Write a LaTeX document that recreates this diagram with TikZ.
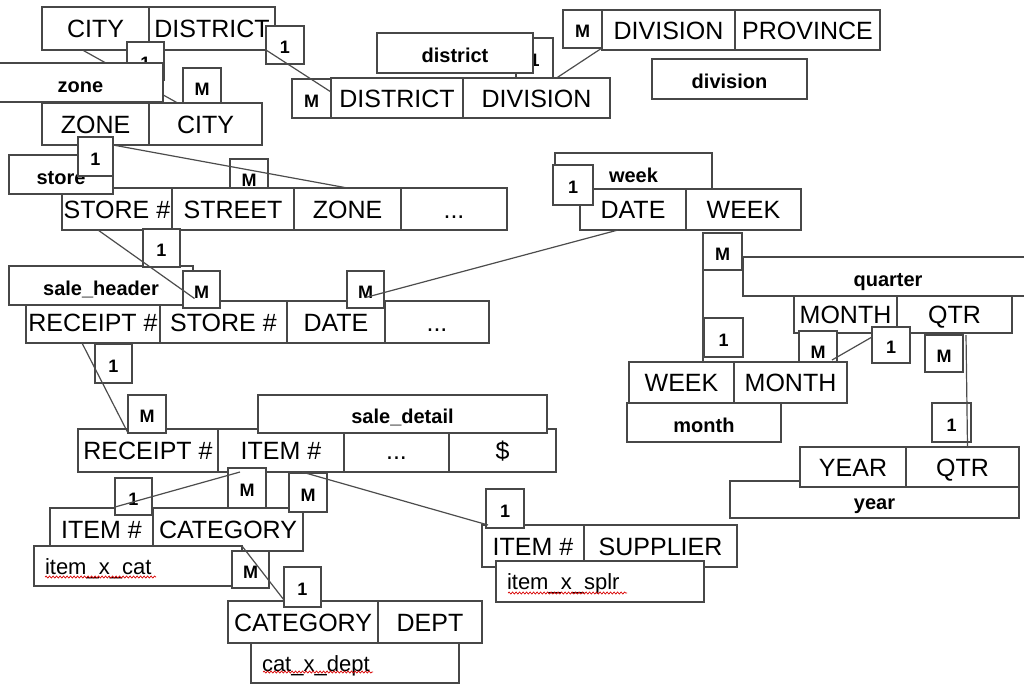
\documentclass[tikz,border=0pt]{standalone}
\usepackage{fontspec}
\setmainfont{Liberation Sans}
\usetikzlibrary{positioning,decorations.pathmorphing}
\tikzset{
  box/.style={draw=black!72, fill=white, line width=1.5pt, inner sep=0pt, outer sep=0pt, anchor=north west},
  cell/.style={box, minimum height=42pt, font=\fontsize{25}{30}\selectfont, text height=18pt, text depth=0pt},
  tabname/.style={box, minimum height=39pt, font=\bfseries\fontsize{20}{24}\selectfont, text height=19pt, text depth=0pt},
  card/.style={box, minimum width=38pt, minimum height=38pt, font=\bfseries\fontsize{18}{22}\selectfont, text height=17pt, text depth=0pt},
  xname/.style={box, minimum height=40pt, font=\fontsize{22}{26}\selectfont, text height=16pt, text depth=0pt,
    align=left, text width=186pt, inner xsep=11pt},
  link/.style={line width=1.2pt, black!70},
  spell/.style={red!85!black, line width=0.7pt, decorate, decoration={snake, amplitude=1pt, segment length=3.5pt}}
}
\begin{document}
\begin{tikzpicture}[x=1pt, y=-1pt]
  \clip (0,0) rectangle (1024,686);
  % city / zone
  \node[cell, minimum width=107pt, minimum height=43pt] (cdCity) at (42,7) {CITY};
  \node[cell, minimum width=126pt, minimum height=43pt, right=0pt of cdCity] (cdDistrict) {DISTRICT};
  \node[card] (cMCity) at (183,68) {M};
  \draw[link] ([xshift=-13pt]cdCity.south) -- (cMCity.south west);
  \node[card, minimum width=37pt] (c1City) at (127,42) {1};
  \node[tabname, minimum width=165pt] (tZone) at (-2,63) {zone};
  \node[cell, minimum width=107pt] (zcZone) at (42,103) {ZONE};
  \node[cell, minimum width=113pt, right=0pt of zcZone] (zcCity) {CITY};

  % district / division
  \node[card] (c1District) at (266,26) {1};
  \node[card, minimum width=39pt, minimum height=39pt] (cMDistrict) at (292,79) {M};
  \node[cell, minimum width=132pt, minimum height=40pt] (ddDistrict) at (331,78) {DISTRICT};
  \node[cell, minimum width=147pt, minimum height=40pt, right=0pt of ddDistrict] (ddDivision) {DIVISION};
  \node[card, minimum width=37pt, minimum height=40pt] (c1Division) at (516,38) {1};
  \node[tabname, minimum width=156pt, minimum height=40pt] (tDistrict) at (377,33) {district};
  \node[card, minimum width=39pt] (cMDivision) at (563,10) {M};
  \node[cell, minimum width=133pt, minimum height=40pt] (dpDivision) at (602,10) {DIVISION};
  \node[cell, minimum width=145pt, minimum height=40pt, right=0pt of dpDivision] (dpProvince) {PROVINCE};
  \node[tabname, minimum width=155pt, minimum height=40pt] (tDivision) at (652,59) {division};
  \draw[link] ([yshift=-5pt]c1District.west) -- ([yshift=6pt]ddDistrict.west);
  \draw[link] ([xshift=20pt]ddDivision.north) -- (cMDivision.south east);

  % store
  \node[card] (cMZone) at (230,159) {M};
  \node[cell, minimum width=110pt] (stStore) at (62,188) {STORE \#};
  \node[cell, minimum width=122pt, right=0pt of stStore] (stStreet) {STREET};
  \node[cell, minimum width=107pt, right=0pt of stStreet] (stZone) {ZONE};
  \node[cell, minimum width=106pt, right=0pt of stZone] (stMore) {...};
  \node[tabname, minimum width=104pt] (tStore) at (9,155) {store};
  \node[card, minimum width=35pt, minimum height=39pt] (c1Zone) at (78,137) {1};
  \draw[link] ([yshift=-8pt]c1Zone.north east) -- (stZone.north);

  % sale_header
  \node[cell, minimum width=134pt] (shReceipt) at (26,301) {RECEIPT \#};
  \node[cell, minimum width=127pt, right=0pt of shReceipt] (shStore) {STORE \#};
  \node[cell, minimum width=98pt, right=0pt of shStore] (shDate) {DATE};
  \node[cell, minimum width=104pt, right=0pt of shDate] (shMore) {...};
  \node[tabname, minimum width=184pt] (tSaleHeader) at (9,266) {sale\_header};
  \node[card, minimum width=37pt] (c1Store) at (143,229) {1};
  \node[card, minimum width=37pt, minimum height=37pt] (cMStore) at (183,271) {M};
  \node[card, minimum width=37pt, minimum height=37pt] (cMDate) at (347,271) {M};
  \draw[link] ([xshift=-19pt]stStore.south) -- ([xshift=-7pt,yshift=-9pt]cMStore.center);

  % week
  \node[tabname, minimum width=157pt, minimum height=40pt] (tWeek) at (555,153) {week};
  \node[cell, minimum width=106pt, minimum height=41pt] (dwDate) at (580,189) {DATE};
  \node[cell, minimum width=115pt, minimum height=41pt, right=0pt of dwDate] (dwWeek) {WEEK};
  \node[card, minimum width=40pt, minimum height=40pt] (c1Date) at (553,165) {1};
  \draw[link] ([xshift=-15pt]dwDate.south) -- ([yshift=-8pt]cMDate.center);

  % month / quarter / year
  \node[card, minimum width=39pt, minimum height=37pt] (cMWeek) at (703,233) {M};
  \node[card, minimum width=39pt, minimum height=39pt] (c1Week) at (704,318) {1};
  \node[tabname, minimum width=290pt] (tQuarter) at (743,257) {quarter};
  \node[cell, minimum width=103pt, minimum height=37pt] (mqMonth) at (794,296) {MONTH};
  \node[cell, minimum width=115pt, minimum height=37pt, right=0pt of mqMonth] (mqQtr) {QTR};
  \node[card] (cMMonth) at (799,331) {M};
  \node[cell, minimum width=105pt, minimum height=41pt] (wmWeek) at (629,362) {WEEK};
  \node[cell, minimum width=113pt, minimum height=41pt, right=0pt of wmWeek] (wmMonth) {MONTH};
  \node[tabname, minimum width=154pt] (tMonth) at (627,403) {month};
  \node[card, minimum height=36pt] (c1Month) at (872,327) {1};
  \node[card, minimum height=37pt] (cMQtr) at (925,335) {M};
  \node[card, minimum width=39pt, minimum height=39pt] (c1Qtr) at (932,403) {1};
  \node[tabname, minimum width=289pt, minimum height=37pt] (tYear) at (730,481) {year};
  \node[cell, minimum width=106pt, minimum height=40pt] (yqYear) at (800,447) {YEAR};
  \node[cell, minimum width=113pt, minimum height=40pt, right=0pt of yqYear] (yqQtr) {QTR};
  \draw[link] (cMWeek.north west) -- (cMWeek.north west |- wmWeek.north);
  \draw[link] ([yshift=8pt]c1Month.west) -- ([xshift=-5pt,yshift=9pt]cMMonth.south east);
  \draw[link] ([xshift=3pt]cMQtr.north east) -- ([xshift=5pt]yqQtr.north);

  % sale_detail
  \node[card, minimum width=37pt, minimum height=39pt] (c1Receipt) at (95,344) {1};
  \node[cell, minimum width=140pt, minimum height=43pt] (sdReceipt) at (78,429) {RECEIPT \#};
  \node[cell, minimum width=126pt, minimum height=43pt, right=0pt of sdReceipt] (sdItem) {ITEM \#};
  \node[cell, minimum width=105pt, minimum height=43pt, right=0pt of sdItem] (sdMore) {...};
  \node[cell, minimum width=107pt, minimum height=43pt, right=0pt of sdMore] (sdAmount) {\$};
  \node[tabname, minimum width=289pt, minimum height=38pt] (tSaleDetail) at (258,395) {sale\_detail};
  \node[card] (cMReceipt) at (128,395) {M};
  \draw[link] ([xshift=-11pt]shReceipt.south) -- (cMReceipt.south west);

  % item lookups
  \node[cell, minimum width=103pt, minimum height=43pt] (icItem) at (50,508) {ITEM \#};
  \node[cell, minimum width=150pt, minimum height=43pt, right=0pt of icItem] (icCategory) {CATEGORY};
  \node[card, minimum height=40pt] (cMItemCat) at (228,468) {M};
  \node[card, minimum height=39pt] (cMItemSup) at (289,473) {M};
  \node[card, minimum width=37pt, minimum height=37pt] (c1ItemCat) at (115,478) {1};
  \node[xname] (xItemCat) at (34,546) {item\_x\_cat};
  \node[card, minimum width=37pt, minimum height=37pt] (cMCategory) at (232,551) {M};
  \node[cell, minimum width=150pt] (ctCategory) at (228,601) {CATEGORY};
  \node[cell, minimum width=104pt, right=0pt of ctCategory] (ctDept) {DEPT};
  \node[xname] (xCatDept) at (251,643) {cat\_x\_dept};
  \node[card, minimum width=37pt, minimum height=40pt] (c1Category) at (284,567) {1};
  \node[cell, minimum width=102pt] (isItem) at (482,525) {ITEM \#};
  \node[cell, minimum width=153pt, right=0pt of isItem] (isSupplier) {SUPPLIER};
  \node[card, minimum height=39pt] (c1ItemSup) at (486,489) {1};
  \node[xname, minimum height=41pt] (xItemSup) at (496,561) {item\_x\_splr};
  \draw[link] ([xshift=-41pt]sdItem.south) -- ([yshift=8pt]c1ItemCat.south west);
  \draw[link] ([xshift=21pt]sdItem.south) -- ([xshift=6pt]isItem.north west);
  \draw[link] (xItemCat.north east) -- ([yshift=7pt]c1Category.south west);
  \draw[spell] ([xshift=11pt,yshift=9pt]xItemCat.south west) -- ++(111,0);
  \draw[spell] ([xshift=12pt,yshift=9pt]xItemSup.south west) -- ++(119,0);
  \draw[spell] ([xshift=12pt,yshift=11pt]xCatDept.south west) -- ++(110,0);
\end{tikzpicture}
\end{document}
